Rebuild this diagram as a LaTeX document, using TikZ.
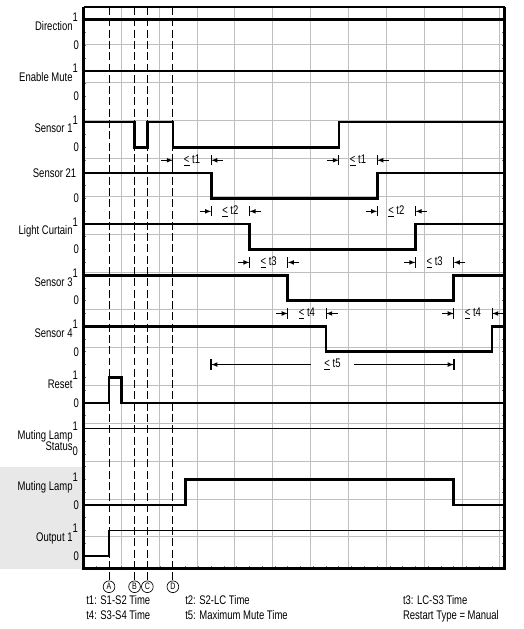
\documentclass[tikz,border=0pt]{standalone}
\usepackage{fontspec}
\newfontfamily\narrowsf{Liberation Sans}[FakeStretch=0.76]
\newcommand{\hi}{\raisebox{6.6pt}{1}}
\newcommand{\lo}{\raisebox{-3.4pt}{0}}
\newcommand{\upto}{\underline{<}}
\tikzset{
  sig/.style={line width=2pt},
  weak/.style={line width=1.3pt},
  marker/.style={dash pattern=on 6pt off 2.5pt, line width=0.7pt},
  letter/.style={circle, draw, line width=0.5pt, minimum size=8.8pt, inner sep=0pt, font=\narrowsf\fontsize{7}{7}\selectfont},
}
\begin{document}
\begin{tikzpicture}[x=9.6pt, y=-9.6pt, >=latex, font=\narrowsf\fontsize{9.4}{10}\selectfont]
    \useasboundingbox (-6.54,-0.55) rectangle (34.42,48.71);
    % shaded labels
    \fill[black!9] (-6.54,36) rectangle (0,44);
    % grid and frame
    \draw[black!25, line width=0.6pt] (0,0) grid (33,44);
    \foreach \r in {1,...,43} {
        \draw[black!55, line width=0.6pt] (0,\r) -- (0.22,\r);
        \draw[black!55, line width=0.6pt] (33,\r) -- (32.78,\r);
    }
    \foreach \c in {1,...,32} \draw[black!55, line width=0.6pt] (\c,44) -- (\c,43.78);
    \draw[line width=0.9pt] (0,0) -- (33,0);
    \draw[line width=2.2pt] (0,0) -- (0,44) -- (33,44) -- (33,0);
    % event markers
    \foreach \c/\l in {2/A,4/B,5/C,7/D} {
        \node[letter] (m\l) at (\c,45.4) {\l};
        \draw[marker] (\c,0) -- (m\l.north);
    }
    % signals
    \draw[sig] (0,1) -- (33,1);
    \draw[sig] (0,5) -- (33,5);
    \draw[sig] (0,9) -| (4,11) -| (5,9) -| (7,11) -| (20,9) -- (33,9);
    \draw[sig] (0,13) -| (10,15) -| (23,13) -- (33,13);
    \draw[sig] (0,17) -| (13,19) -| (26,17) -- (33,17);
    \draw[sig] (0,21) -| (16,23) -| (29,21) -- (33,21);
    \draw[sig] (0,25) -| (19,27) -| (32,25) -- (33,25);
    \draw[sig] (0,31) -| (2,29) -| (3,31) -- (33,31);
    \draw[weak] (0,33) -- (33,33);
    \draw[sig] (0,39) -| (8,37) -| (29,39) -- (33,39);
    \draw[sig] (0,43) -- (2,43);
    \draw[weak] (2,43) -- (2,41) -- (33,41);
    % timing limits
    \foreach \a/\b/\r/\t in {7/10/12/1, 20/23/12/1, 10/13/16/2, 23/26/16/2,
                             13/16/20/3, 26/29/20/3, 16/19/24/4, 29/32/24/4} {
        \draw[->, line width=0.6pt] ({\a-0.9},\r) -- (\a,\r);
        \draw[->, line width=0.6pt] ({\b+0.9},\r) -- (\b,\r);
        \draw[line width=0.6pt] (\a,{\r-0.4}) -- (\a,{\r+0.4});
        \draw[line width=0.6pt] (\b,{\r-0.4}) -- (\b,{\r+0.4});
        \node (t\t\a) at ({(\a+\b)/2},\r) {\upto\ t\t};
    }
    \node[inner xsep=10pt] (t5) at (19.5,28) {\upto\ t5};
    \draw[->, line width=0.6pt] (t5.west) -- (10,28);
    \draw[->, line width=0.6pt] (t5.east) -- (29,28);
    \draw[line width=1.4pt] (10,27.55) -- (10,28.45);
    \draw[line width=1.4pt] (29,27.55) -- (29,28.45);
    % signal names
    \foreach \k/\name in {0/Direction, 1/Enable Mute, 2/Sensor 1, 4/Light Curtain,
                          5/Sensor 3, 6/Sensor 4, 7/Reset, 9/Muting Lamp, 10/Output 1} {
        \node[anchor=base east, inner sep=0pt] (lab\k) at (-0.42,{4*\k+1.85}) {\name\hi};
        \node[anchor=base east, inner sep=0pt] (zero\k) at (-0.33,{4*\k+3.33}) {0};
    }
    \node[anchor=base east, inner sep=0pt] (lab3) at (-0.55,13.33) {Sensor 21};
    \node[anchor=base east, inner sep=0pt] (zero3) at (-0.33,15.33) {0};
    \node[anchor=base east, inner sep=0pt] (lab8) at (-0.42,33.85) {Muting Lamp\hi};
    \node[anchor=base east, inner sep=0pt] (zero8) at (-0.42,34.74) {Status\lo};
    % legend
    \node[anchor=base west, inner sep=0pt] (k1) at (0.2,46.8) {t1: S1-S2 Time};
    \node[anchor=base west, inner sep=0pt] (k4) at (0.2,48.0) {t4: S3-S4 Time};
    \node[anchor=base west, inner sep=0pt] (k2) at (7.95,46.8) {t2: S2-LC Time};
    \node[anchor=base west, inner sep=0pt] (k5) at (7.95,48.0) {t5: Maximum Mute Time};
    \node[anchor=base west, inner sep=0pt] (k3) at (25,46.8) {t3: LC-S3 Time};
    \node[anchor=base west, inner sep=0pt] (kr) at (25,48.0) {Restart Type = Manual};
\end{tikzpicture}
\end{document}
